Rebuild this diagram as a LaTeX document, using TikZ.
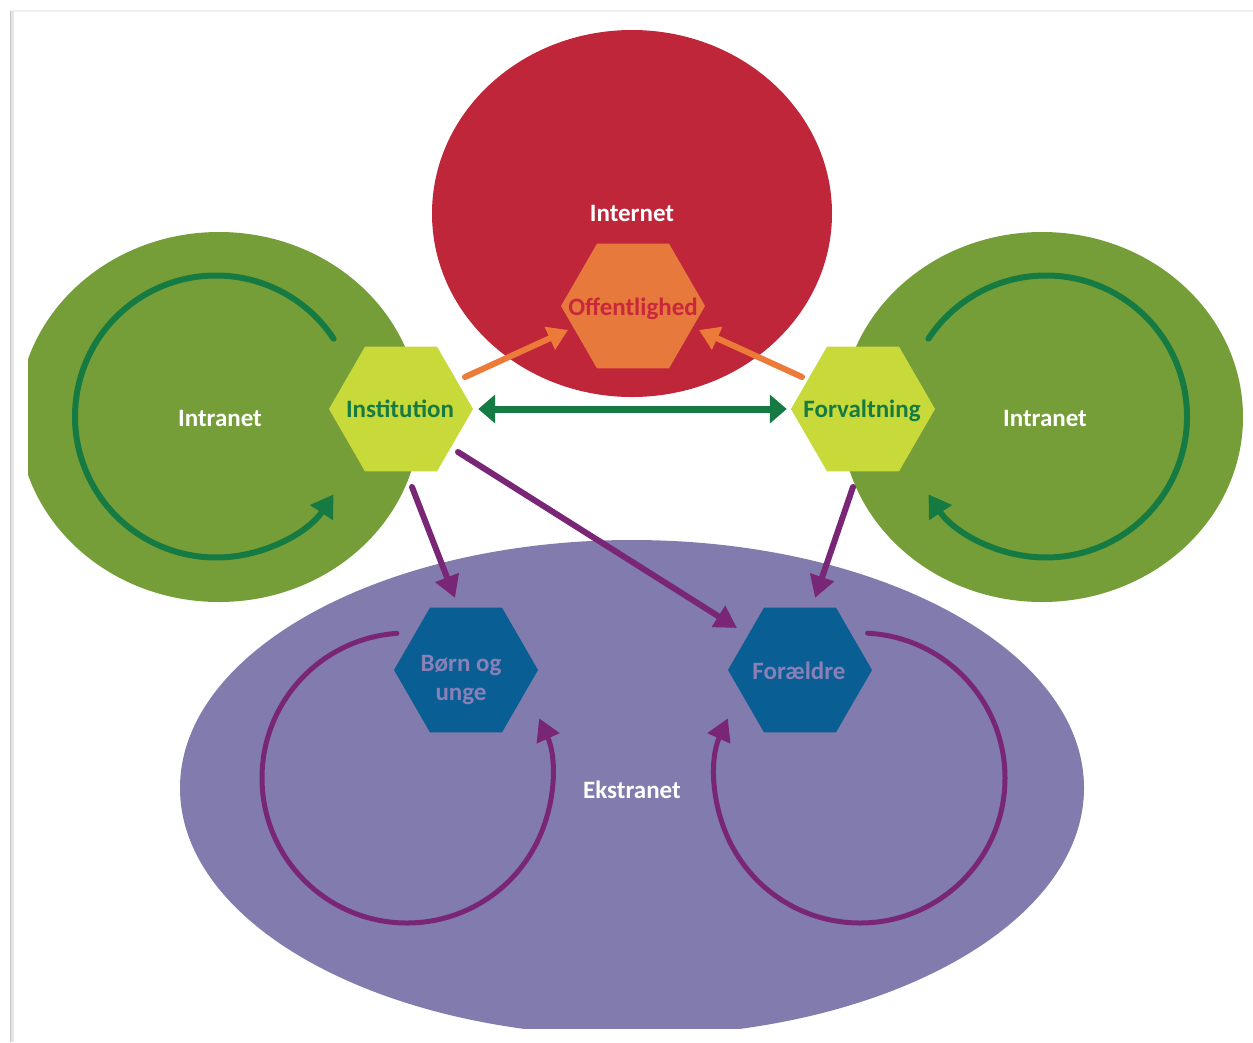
\documentclass[tikz,border=0pt]{standalone}
\usepackage{fontspec}
\setmainfont{Carlito}
\usetikzlibrary{shapes.geometric,arrows.meta,calc}
\definecolor{greenC}{RGB}{117,158,56}
\definecolor{darkG}{RGB}{22,122,67}
\definecolor{limeC}{RGB}{200,217,58}
\definecolor{redC}{RGB}{192,38,58}
\definecolor{orangeC}{RGB}{232,121,61}
\definecolor{orangeA}{RGB}{236,123,58}
\definecolor{purpleE}{RGB}{130,123,173}
\definecolor{blueH}{RGB}{9,94,148}
\definecolor{purpleA}{RGB}{122,38,118}
\definecolor{lavT}{RGB}{138,128,184}
\definecolor{redT}{RGB}{200,40,60}
\begin{document}
\begin{tikzpicture}[x=1pt,y=1pt,
  hexa/.style={regular polygon, regular polygon sides=6, minimum size=144pt, inner sep=0pt, draw=none},
  lbl/.style={font=\fontsize{25}{29}\selectfont\bfseries, inner sep=0pt, align=center, anchor=base},
  ring/.style={line width=6pt, line cap=round},
  conn/.style={line width=6pt, line cap=round}
]
\useasboundingbox (0,0) rectangle (1253,-1042);
\fill[white] (0,0) rectangle (1253,-1042);
% frame
\draw[gray!12, line width=2.5pt] (10,-11) -- (1253,-11);
\draw[gray!20, line width=4pt] (12,-11) -- (12,-1042);
\draw[gray!45, line width=1.8pt] (10.5,-11) -- (10.5,-1042);
% big shapes
\begin{scope}
  \clip (28,0) rectangle (1253,-1028);
  \fill[greenC] (219,-417) ellipse [x radius=201, y radius=185];
  \fill[greenC] (1042,-417) ellipse [x radius=201, y radius=185];
  \fill[redC] (632,-213.5) ellipse [x radius=200, y radius=183.5];
  \fill[purpleE] (632,-788) ellipse [x radius=452, y radius=248];
\end{scope}
% rings
\draw[ring, darkG, -{Triangle[length=22pt,width=26pt]}] (216,-416.5) ++(33.5:141) arc[start angle=33.5, end angle=326.5, radius=141];
\draw[ring, darkG, -{Triangle[length=22pt,width=26pt]}] (1046,-416.5) ++(146.5:141) arc[start angle=146.5, end angle=-146.5, radius=141];
\draw[ring, purpleA, line width=5pt, -{Triangle[length=22pt,width=24pt]}] (407,-778) ++(94:145) arc[start angle=94, end angle=384.3, radius=145];
\draw[ring, purpleA, line width=5pt, -{Triangle[length=22pt,width=24pt]}] (860,-778) ++(87:145) arc[start angle=87, end angle=-204.3, radius=145];
% hexagons
\node[hexa, fill=orangeC] (offn) at (633,-306) {};
\node[hexa, fill=limeC] (inst) at (401,-409) {};
\node[hexa, fill=limeC] (forv) at (863,-409) {};
\node[hexa, fill=blueH] (born) at (466,-670) {};
\node[hexa, fill=blueH] (fora) at (800,-670) {};
% labels
\node[lbl, text=white] (internetT) at (632,-221) {Internet};
\node[lbl, text=redT] (offnT) at (633,-315) {Offentlighed};
\node[lbl, text=white] (intraL) at (220,-426) {Intranet};
\node[lbl, text=white] (intraR) at (1045,-426) {Intranet};
\node[lbl, text=darkG] (instT) at (400,-417) {Institution};
\node[lbl, text=darkG] (forvT) at (862,-417) {Forvaltning};
\node[lbl, text=lavT] (bornT) at (461,-700) {Børn og\\unge};
\node[lbl, text=lavT] (foraT) at (799,-679) {Forældre};
\node[lbl, text=white] (ekstT) at (632,-798) {Ekstranet};
% connectors
\draw[line width=7pt, darkG, {Triangle[length=17pt,width=28pt]}-{Triangle[length=17pt,width=28pt]}] ([xshift=5pt]inst.east) -- ([xshift=-4pt]forv.west);
\draw[conn, orangeA, -{Triangle[length=20pt,width=24pt]}] ($(inst)+(64,32)$) -- ($(offn)+(-65,-24)$);
\draw[conn, orangeA, -{Triangle[length=20pt,width=24pt]}] ($(forv)+(-61,32)$) -- ($(offn)+(66,-24)$);
\draw[conn, purpleA, -{Triangle[length=22pt,width=24pt]}] ($(inst)+(11,-78)$) -- ($(born)+(-11,72)$);
\draw[conn, purpleA, -{Triangle[length=22pt,width=24pt]}] ($(inst)+(57,-43)$) -- ($(fora)+(-63,42)$);
\draw[conn, purpleA, -{Triangle[length=22pt,width=24pt]}] ($(forv)+(-10,-78)$) -- ($(fora)+(15,72)$);
\end{tikzpicture}
\end{document}
